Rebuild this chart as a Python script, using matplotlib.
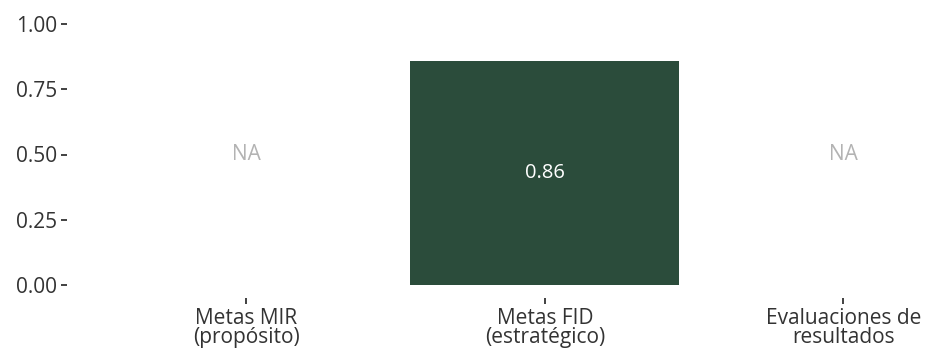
import matplotlib
matplotlib.use("Agg")
import matplotlib.pyplot as plt

# Datos del gráfico
categorias = ["Metas MIR\n(propósito)", "Metas FID\n(estratégico)", "Evaluaciones de\nresultados"]
valores = [None, 0.86, None]
y_ticks = [0.00, 0.25, 0.50, 0.75, 1.00]

plt.rcParams['font.family'] = ['Open Sans', 'DejaVu Sans']

fig = plt.figure(figsize=(9.3, 3.54), dpi=100)
ax = fig.add_axes([67 / 930, 56 / 354, 1 - 67 / 930, 287 / 354])

posiciones = list(range(len(categorias)))
for x, v in zip(posiciones, valores):
    if v is None:
        ax.text(x, 0.5, "NA", ha="center", va="center", color="#b3b3b3", fontsize=15)
    else:
        ax.bar(x, v, width=0.9, color="#2b4c3b")
        ax.text(x, v / 2, f"{v:.2f}", ha="center", va="center", color="white", fontsize=14.5)

ax.set_xlim(-0.6, 2.29)
ax.set_ylim(-0.05, 1.05)
ax.set_xticks(posiciones)
ax.set_xticklabels(categorias, fontsize=15, color="#333333", linespacing=0.9)
ax.set_yticks(y_ticks)
ax.set_yticklabels([f"{t:.2f}" for t in y_ticks], fontsize=15, color="#333333")
ax.tick_params(axis="both", length=4, width=1.3, color="#333333", pad=3)

for s in ax.spines.values():
    s.set_visible(False)

fig.savefig("out.png", dpi=100)
